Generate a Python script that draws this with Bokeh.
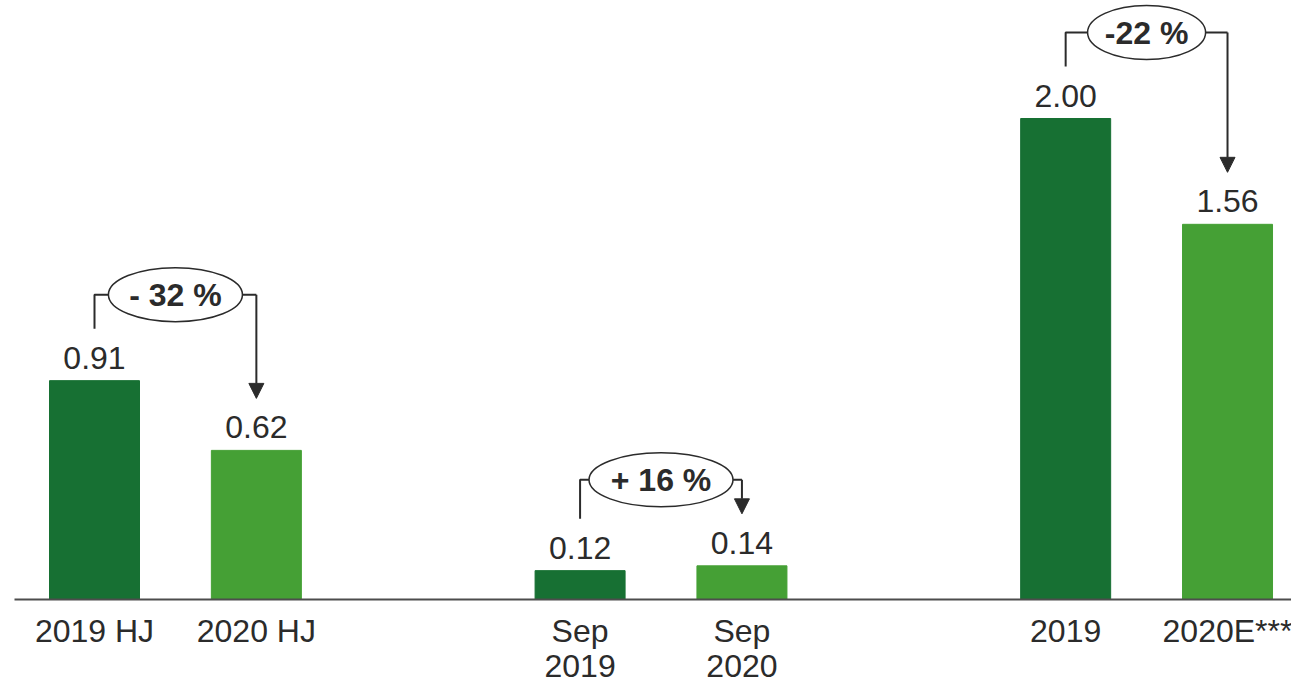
from bokeh.plotting import figure
from bokeh.models import ColumnDataSource, Range1d, Arrow, NormalHead
from bokeh.core.properties import value
from bokeh.embed import file_html
from bokeh.resources import INLINE

# --- data -------------------------------------------------------------
categories = ["2019 HJ", "2020 HJ", "Sep\n2019", "Sep\n2020", "2019", "2020E***"]
values = [0.91, 0.62, 0.12, 0.14, 2.00, 1.56]
change_labels = ["- 32 %", "+ 16 %", "-22 %"]

# --- layout -----------------------------------------------------------
W, H = 1291, 684
DARK = "#177033"
LIGHT = "#45a035"
INK = "#2b2b2b"
FONT = "Liberation Sans"
FS = "32px"

# bars sit in pairs with a one-slot gap between the pairs
slots = []
for g in range(3):
    slots += [3 * g, 3 * g + 1]
colors = [DARK, LIGHT] * 3

px_per_unit = 240.5          # vertical scale
base_px = 599                # baseline distance from top
px_per_slot = 161.86
first_px = 94

y_range = Range1d(-(H - base_px) / px_per_unit, base_px / px_per_unit)
x_range = Range1d(-first_px / px_per_slot, (W - first_px) / px_per_slot)

def dy(px):
    return px / px_per_unit

def dx(px):
    return px / px_per_slot

p = figure(width=W, height=H, x_range=x_range, y_range=y_range,
           output_backend="svg", toolbar_location=None, min_border=0)
p.axis.visible = False
p.grid.visible = False
p.outline_line_color = None
p.background_fill_color = "white"
p.border_fill_color = "white"

# bars
src = ColumnDataSource(dict(x=slots, top=values, color=colors,
                            label=[f"{v:.2f}" for v in values],
                            label_y=[v + dy(23) for v in values]))
p.vbar(x="x", top="top", bottom=0, width=dx(90), color="color", source=src)

# value labels above bars
p.text(x="x", y="label_y", text="label", source=src,
       text_font=value(FONT), text_font_size=FS, text_color=INK,
       text_align="center", text_baseline="alphabetic")

# baseline
p.segment(x0=[-dx(80)], y0=[0], x1=[x_range.end], y1=[0],
          line_color="#4d4d4d", line_width=2)

# category labels (one or two lines)
lx, ly, lt = [], [], []
for x, cat in zip(slots, categories):
    for i, line in enumerate(cat.split("\n")):
        lx.append(x)
        ly.append(-dy(31 + 35 * i))
        lt.append(line)
p.text(x=lx, y=ly, text=lt, text_font=value(FONT), text_font_size=FS,
       text_color=INK, text_align="center", text_baseline="alphabetic")

# change brackets between each pair
ell_w = [134, 144, 118]
for g in range(3):
    i1, i2 = 2 * g, 2 * g + 1
    x1, x2 = slots[i1], slots[i2]
    v1, v2 = values[i1], values[i2]
    level = max(v1, v2) + dy(86)
    p.line(x=[x1, x1, x2], y=[v1 + dy(52), level, level],
           line_color=INK, line_width=2)
    p.add_layout(Arrow(end=NormalHead(size=15, fill_color=INK, line_color=INK),
                       x_start=x2, y_start=level, x_end=x2, y_end=v2 + dy(52),
                       line_color=INK, line_width=2))
    xm = (x1 + x2) / 2
    p.ellipse(x=[xm], y=[level], width=ell_w[g], height=54,
              width_units="screen", height_units="screen",
              fill_color="white", line_color=INK, line_width=1.5)
    p.text(x=[xm], y=[level], text=[change_labels[g]],
           text_font=value(FONT), text_font_size=FS, text_font_style="bold",
           text_color=INK, text_align="center", text_baseline="middle")

open("out.html", "w").write(file_html(p, INLINE))
